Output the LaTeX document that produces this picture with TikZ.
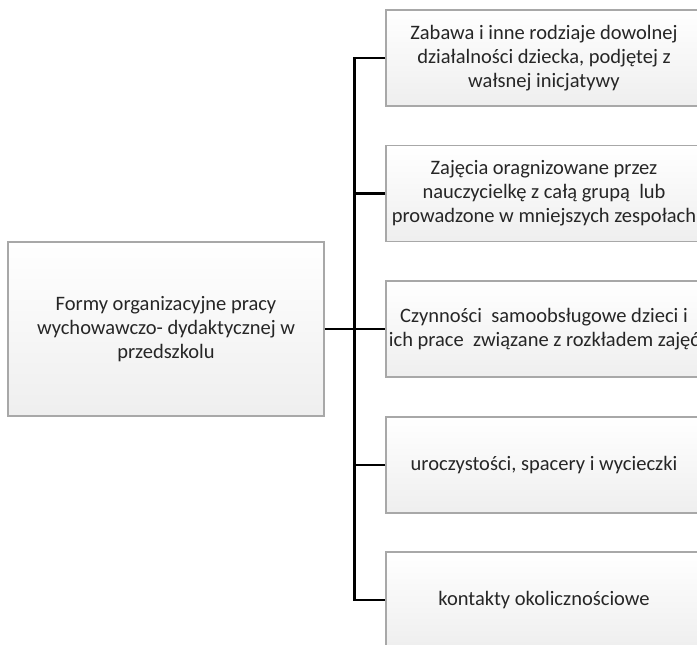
\documentclass[tikz,border=0pt]{standalone}
\usepackage{fontspec}
\setmainfont{Carlito}
\definecolor{txt}{HTML}{262626}
\definecolor{edge}{HTML}{A8A8A8}
\begin{document}
\begin{tikzpicture}[x=1pt,y=-1pt,
  boxbase/.style={rectangle, inner sep=0pt, draw=edge, line width=1.2pt,
    top color=white, middle color=white, bottom color=gray!13},
  bigbox/.style={boxbase, minimum width=316pt, minimum height=174pt},
  smallbox/.style={boxbase, minimum width=316pt, minimum height=96pt},
  lbl/.style={align=center, text=txt, font=\fontsize{20.5}{24}\selectfont, inner sep=0pt},
  conn/.style={line width=2.2pt, black}]
\useasboundingbox (0,0) rectangle (697,645);
\clip (0,0) rectangle (697,645);
\node[bigbox] (L) at (166,329) {};
\node[lbl] at (L.center) {Formy organizacyjne pracy\\wychowawczo- dydaktycznej w\\przedszkolu};
\node[smallbox] (R1) at (544,58) {};
\node[smallbox] (R2) at (544,193.5) {};
\node[smallbox] (R3) at (544,329) {};
\node[smallbox] (R4) at (544,465) {};
\node[smallbox] (R5) at (544,600) {};
\node[lbl] at (R1.center) {Zabawa i inne rodziaje dowolnej\\działalności dziecka, podjętej z\\wałsnej inicjatywy};
\node[lbl] at (R2.center) {Zajęcia oragnizowane przez\\nauczycielkę z całą grupą~ lub\\prowadzone w mniejszych zespołach};
\node[lbl] at (R3.center) {Czynności~ samoobsługowe dzieci i\\ich prace~ związane z rozkładem zajęć};
\node[lbl] at (R4.center) {uroczystości, spacery i wycieczki};
\node[lbl] at (R5.center) {kontakty okolicznościowe};
\draw[conn] (R1.west) -- ++(-31,0) |- (R5.west);
\draw[conn] (L.east) -- (R3.west);
\draw[conn] (R2.west) -- ++(-31,0);
\draw[conn] (R4.west) -- ++(-31,0);
\end{tikzpicture}
\end{document}
